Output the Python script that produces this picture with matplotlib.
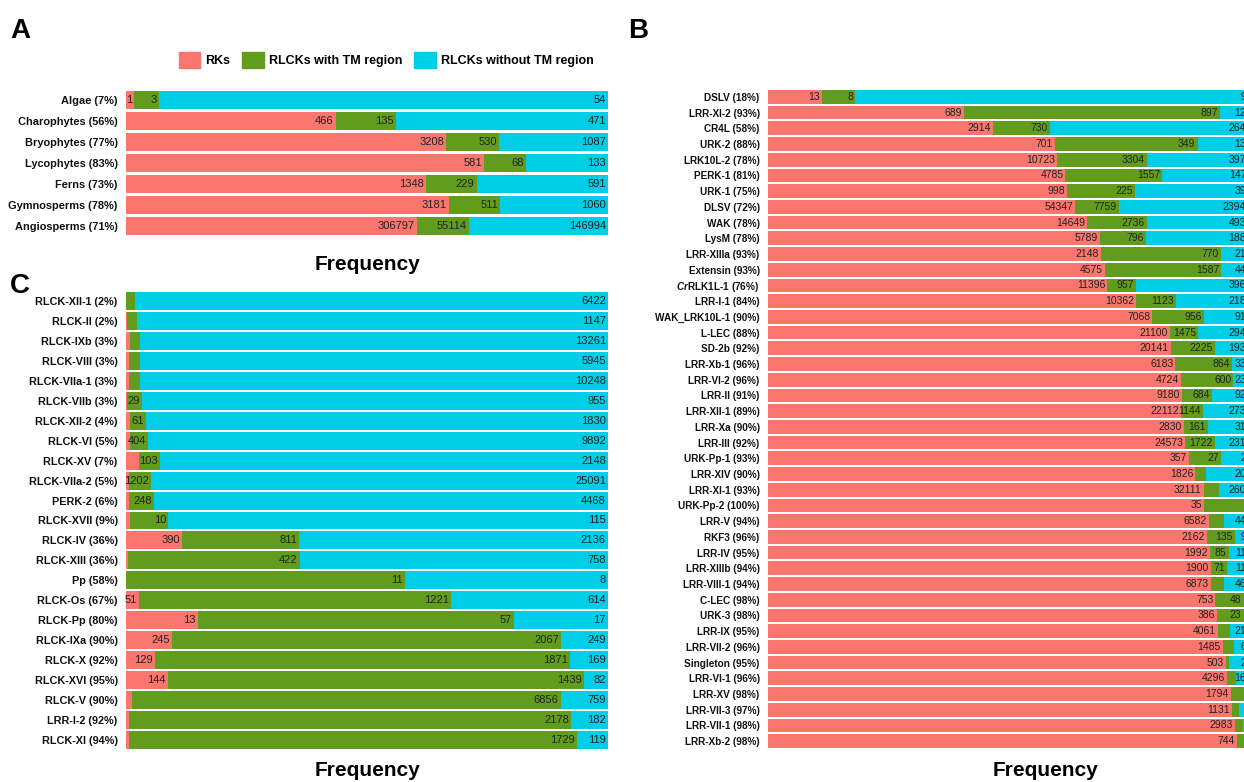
import matplotlib.pyplot as plt
from matplotlib.patches import Patch

plt.rcParams['font.family'] = ['Liberation Sans', 'DejaVu Sans']
plt.rcParams['mathtext.fontset'] = 'custom'
plt.rcParams['mathtext.it'] = 'Liberation Sans:italic:bold'

RED = '#F8766D'
GREEN = '#629C1F'
CYAN = '#00CDE6'

# Panel A: plant lineages
a_names = ['Algae (7%)', 'Charophytes (56%)', 'Bryophytes (77%)', 'Lycophytes (83%)',
           'Ferns (73%)', 'Gymnosperms (78%)', 'Angiosperms (71%)']
a_rk = [1, 466, 3208, 581, 1348, 3181, 306797]
a_tm = [3, 135, 530, 68, 229, 511, 55114]
a_notm = [54, 471, 1087, 133, 591, 1060, 146994]

# Panel B: RK subfamilies
b_names = ['DSLV (18%)', 'LRR-XI-2 (93%)', 'CR4L (58%)', 'URK-2 (88%)', 'LRK10L-2 (78%)',
           'PERK-1 (81%)', 'URK-1 (75%)', 'DLSV (72%)', 'WAK (78%)', 'LysM (78%)',
           'LRR-XIIIa (93%)', 'Extensin (93%)', '$\\mathit{Cr}$RLK1L-1 (76%)', 'LRR-I-1 (84%)',
           'WAK_LRK10L-1 (90%)', 'L-LEC (88%)', 'SD-2b (92%)', 'LRR-Xb-1 (96%)',
           'LRR-VI-2 (96%)', 'LRR-II (91%)', 'LRR-XII-1 (89%)', 'LRR-Xa (90%)',
           'LRR-III (92%)', 'URK-Pp-1 (93%)', 'LRR-XIV (90%)', 'LRR-XI-1 (93%)',
           'URK-Pp-2 (100%)', 'LRR-V (94%)', 'RKF3 (96%)', 'LRR-IV (95%)',
           'LRR-XIIIb (94%)', 'LRR-VIII-1 (94%)', 'C-LEC (98%)', 'URK-3 (98%)',
           'LRR-IX (95%)', 'LRR-VII-2 (96%)', 'Singleton (95%)', 'LRR-VI-1 (96%)',
           'LRR-XV (98%)', 'LRR-VII-3 (97%)', 'LRR-VII-1 (98%)', 'LRR-Xb-2 (98%)']
b_rk = [13, 689, 2914, 701, 10723, 4785, 998, 54347, 14649, 5789, 2148, 4575, 11396,
        10362, 7068, 21100, 20141, 6183, 4724, 9180, 22112, 2830, 24573, 357, 1826,
        32111, 35, 6582, 2162, 1992, 1900, 6873, 753, 386, 4061, 1485, 503, 4296,
        1794, 1131, 2983, 744]
b_tm = [8, 897, 730, 349, 3304, 1557, 225, 7759, 2736, 796, 770, 1587, 957, 1123, 956,
        1475, 2225, 864, 600, 684, 1144, 161, 1722, 27, 47, 1115, 4, 230, 135, 85, 71,
        200, 48, 23, 110, 37, 4, 90, 55, 17, 50, 14]
b_notm = [96, 120, 2642, 138, 3975, 1475, 398, 23945, 4935, 1885, 215, 445, 3965, 2185,
          915, 2942, 1935, 330, 235, 925, 2735, 315, 2315, 28, 203, 2605, 0, 445, 96,
          115, 115, 465, 17, 9, 215, 65, 27, 165, 35, 37, 70, 13]

# Panel C: RLCK subfamilies
c_names = ['RLCK-XII-1 (2%)', 'RLCK-II (2%)', 'RLCK-IXb (3%)', 'RLCK-VIII (3%)',
           'RLCK-VIIa-1 (3%)', 'RLCK-VIIb (3%)', 'RLCK-XII-2 (4%)', 'RLCK-VI (5%)',
           'RLCK-XV (7%)', 'RLCK-VIIa-2 (5%)', 'PERK-2 (6%)', 'RLCK-XVII (9%)',
           'RLCK-IV (36%)', 'RLCK-XIII (36%)', 'Pp (58%)', 'RLCK-Os (67%)', 'RLCK-Pp (80%)',
           'RLCK-IXa (90%)', 'RLCK-X (92%)', 'RLCK-XVI (95%)', 'RLCK-V (90%)',
           'LRR-I-2 (92%)', 'RLCK-XI (94%)']
c_rk = [5, 2, 120, 40, 60, 3, 17, 80, 60, 146, 25, 1, 390, 6, 0, 51, 13, 245, 129, 144,
        95, 15, 12]
c_tm = [120, 24, 265, 144, 257, 29, 61, 404, 103, 1202, 248, 10, 811, 422, 11, 1221, 57,
        2067, 1871, 1439, 6856, 2178, 1729]
c_notm = [6422, 1147, 13261, 5945, 10248, 955, 1830, 9892, 2148, 25091, 4468, 115, 2136,
          758, 8, 614, 17, 249, 169, 82, 759, 182, 119]

W, H = 1244, 782
fig = plt.figure(figsize=(W / 100, H / 100), dpi=100)


def px_axes(left, top, right, bottom):
    return fig.add_axes([left / W, 1 - bottom / H, (right - left) / W, (bottom - top) / H])


def draw_panel(ax, names, rk, tm, notm, min_frac, num_size, name_size, bar_h):
    rows = list(range(len(names)))
    totals = [r + t + n for r, t, n in zip(rk, tm, notm)]
    left = [0.0] * len(names)
    for vals, color in ((rk, RED), (tm, GREEN), (notm, CYAN)):
        fracs = [v / tot for v, tot in zip(vals, totals)]
        ax.barh(rows, fracs, left=left, height=bar_h, color=color, linewidth=0)
        for y, v, f, l in zip(rows, vals, fracs, left):
            if v > 0 and f >= min_frac:
                ax.annotate(str(v), (l + f, y), xytext=(-1.5, 0), textcoords='offset points',
                            ha='right', va='center', fontsize=num_size, color='#222222',
                            annotation_clip=False)
        left = [l + f for l, f in zip(left, fracs)]
    ax.set_xlim(0, 1)
    ax.set_ylim(len(names) - 0.5, -0.5)
    ax.set_yticks(rows)
    ax.set_yticklabels(names, fontsize=name_size, fontweight='bold', color='#111111')
    ax.tick_params(axis='y', length=0, pad=6)
    ax.set_xticks([])
    for s in ax.spines.values():
        s.set_visible(False)


ax_a = px_axes(126, 89.5, 608, 236.5)
draw_panel(ax_a, a_names, a_rk, a_tm, a_notm, 0.0, 8, 7.9, 0.9)

ax_c = px_axes(126, 291, 608, 750)
draw_panel(ax_c, c_names, c_rk, c_tm, c_notm, 0.0265, 8, 7.8, 0.9)

# panel B runs past the right edge of the figure, as in the source
ax_b = px_axes(768, 89, 1254, 749)
draw_panel(ax_b, b_names, b_rk, b_tm, b_notm, 0.033, 7.5, 7.2, 0.87)

handles = [Patch(color=RED, label='RKs'),
           Patch(color=GREEN, label='RLCKs with TM region'),
           Patch(color=CYAN, label='RLCKs without TM region')]
fig.legend(handles=handles, loc='center', bbox_to_anchor=(386 / W, 1 - 60 / H), ncol=3,
           frameon=False, prop={'weight': 'bold', 'size': 9}, handlelength=1.7,
           handleheight=1.7, handletextpad=0.4, columnspacing=1.0)

for letter, x, y in (('A', 10, 31), ('B', 628, 31), ('C', 10, 286)):
    fig.text(x / W, 1 - y / H, letter, fontsize=20, fontweight='bold', va='center')

for x, y in ((367, 265), (367, 771), (1045, 771)):
    fig.text(x / W, 1 - y / H, 'Frequency', fontsize=15, fontweight='bold',
             ha='center', va='center')

fig.savefig('out.png', dpi=100)
